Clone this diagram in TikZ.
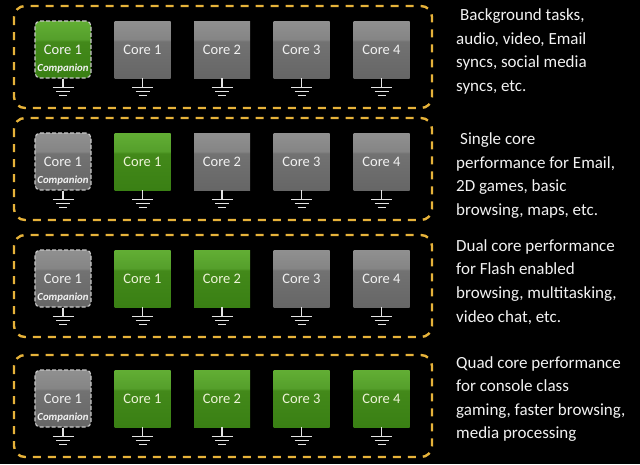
\documentclass[tikz,border=0pt]{standalone}
\usepackage{fontspec}
\setmainfont{Carlito}
\usetikzlibrary{calc}
\definecolor{gold}{HTML}{E6B23A}
\definecolor{gtop}{HTML}{62AE34}
\definecolor{gmid}{HTML}{559F2B}
\definecolor{glow}{HTML}{43891A}
\definecolor{gbot}{HTML}{3A8014}
\definecolor{qtop}{HTML}{909090}
\definecolor{qmid}{HTML}{858585}
\definecolor{qlow}{HTML}{727272}
\definecolor{qbot}{HTML}{666666}
\definecolor{txt}{HTML}{F2F2F2}
\definecolor{gtxt}{HTML}{EEF4D8}
\definecolor{gnd}{HTML}{E4E4E4}
\definecolor{cdash}{HTML}{C8C8C8}
\pgfdeclareverticalshading{greencore}{100bp}{color(0bp)=(gbot); color(25bp)=(gbot); color(57bp)=(glow); color(59bp)=(gmid); color(75bp)=(gtop); color(100bp)=(gtop)}
\pgfdeclareverticalshading{graycore}{100bp}{color(0bp)=(qbot); color(25bp)=(qbot); color(57bp)=(qlow); color(59bp)=(qmid); color(75bp)=(qtop); color(100bp)=(qtop)}
\tikzset{
  rowbox/.style={draw=gold, line width=2.4pt, dash pattern=on 8pt off 7pt, rounded corners=11pt},
  corebase/.style={minimum width=56pt, minimum height=57pt, inner sep=0pt, font=\fontsize{14.5}{14.5}\selectfont},
  green core/.style={corebase, shading=greencore, text=gtxt},
  gray core/.style={corebase, shading=graycore, text=txt},
  companion/.style={draw=cdash, line width=1.1pt, dash pattern=on 4pt off 2pt, rounded corners=5pt},
  comptext/.style={font=\fontsize{10.8}{10.8}\selectfont\itshape\bfseries, inner sep=0pt},
  desc/.style={anchor=base west, text=txt, inner sep=0pt, font=\fontsize{17}{17}\selectfont},
  ground/.pic={\draw[gnd, line width=1.3pt] (0,0) -- (0,9) (-10.5,9) -- (10.5,9) (-7,13) -- (7,13) (-4,17) -- (4,17);}
}
\begin{document}
\begin{tikzpicture}[x=1pt, y=-1pt]
\fill[black] (0,0) rectangle (640,464);
\useasboundingbox (0,0) rectangle (640,464);
% rows: index / top / number of green cores among Core1..4 / companion style
\foreach \r/\top/\ng/\cs in {1/6/0/green core, 2/118/1/gray core, 3/235/2/gray core, 4/355/4/gray core}{
  \draw[rowbox] (14,\top) rectangle (432,\top+102);
  \node[\cs, companion] (c\r0) at (63,\top+43.5) {};
  \node[text=txt, font=\fontsize{14.5}{14.5}\selectfont, inner sep=0pt] (l\r0) at (63,\top+44) {Core 1};
  \node[comptext, text=txt] (k\r0) at (63,\top+62.5) {Companion};
  \pic at (c\r0.south) {ground};
  \foreach \i/\x in {1/142.5, 2/222, 3/301.5, 4/381.5}{
    \ifnum\i>\ng
      \node[gray core] (c\r\i) at (\x,\top+43.5) {Core \i};
    \else
      \node[green core] (c\r\i) at (\x,\top+43.5) {Core \i};
    \fi
    \pic at (c\r\i.south) {ground};
  }
}
% descriptions
\node[desc] (t11) at (460,20) {Background tasks,};
\node[desc] (t12) at (456,44) {audio, video, Email};
\node[desc] (t13) at (456,67.5) {syncs, social media};
\node[desc] (t14) at (456,91) {syncs, etc.};
\node[desc] (t21) at (460,144) {Single core};
\node[desc] (t22) at (456,168) {performance for Email,};
\node[desc] (t23) at (456,191.5) {2D games, basic};
\node[desc] (t24) at (456,215) {browsing, maps, etc.};
\node[desc] (t31) at (456,251) {Dual core performance};
\node[desc] (t32) at (456,274.5) {for Flash enabled};
\node[desc] (t33) at (456,298) {browsing, multitasking,};
\node[desc] (t34) at (456,322) {video chat, etc.};
\node[desc] (t41) at (456,368) {Quad core performance};
\node[desc] (t42) at (456,391.5) {for console class};
\node[desc] (t43) at (456,415) {gaming, faster browsing,};
\node[desc] (t44) at (456,438.5) {media processing};
\end{tikzpicture}
\end{document}
